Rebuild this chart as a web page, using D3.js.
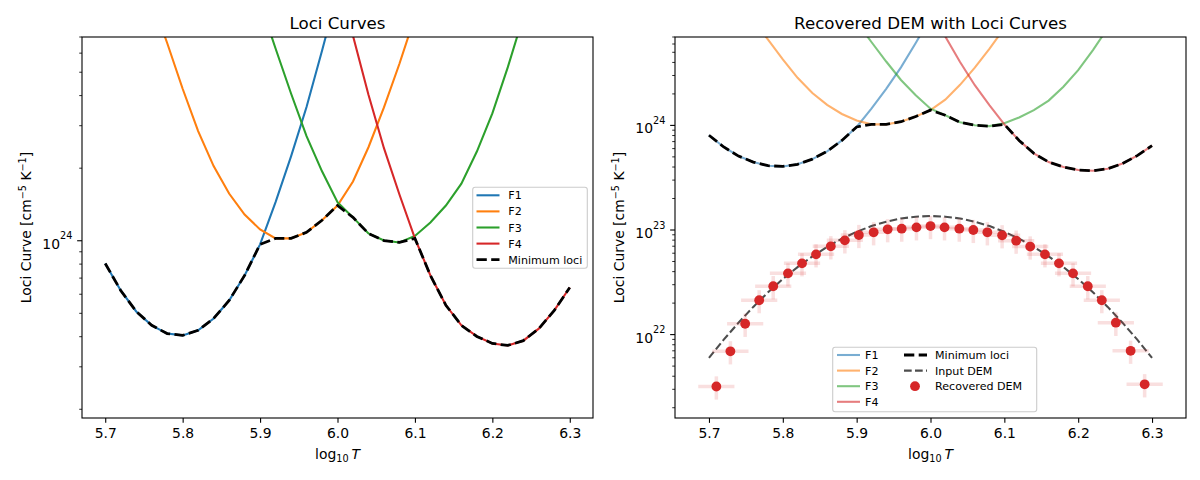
<!DOCTYPE html>
<html>
<head>
<meta charset="UTF-8">
<script src="https://d3js.org/d3.v7.min.js"></script>
<style>
    body { margin: 0; background: #fff; }
    svg text { font-family: "DejaVu Sans", sans-serif; fill: #000; }
</style>
</head>
<body>
<svg id="fig" width="1200" height="480"></svg>
<script>
// temperature grid of the loci curves
const logT = [5.70, 5.72, 5.74, 5.76, 5.78, 5.80, 5.82, 5.84, 5.86, 5.88, 5.90,
              5.92, 5.94, 5.96, 5.98, 6.00, 6.02, 6.04, 6.06, 6.08, 6.10,
              6.12, 6.14, 6.16, 6.18, 6.20, 6.22, 6.24, 6.26, 6.28, 6.30];

// loci curves, in units of 1e24 cm^-5 K^-1
const LOCI_UNIT = 1e24;
const f1 = [0.805, 0.622, 0.509, 0.446, 0.412, 0.405, 0.425, 0.476, 0.565, 0.718, 0.966,
            1.445, 2.239, 3.589, 6.138, 10.7, 19.1, 34.7, 63.1, 117, 224,
            427, 832, 1620, 3160, 6310, 12600, 25100, 50100, 100000, 200000];
const f2 = [50.1, 28.2, 16.6, 10.0, 6.61, 4.27, 2.85, 2.04, 1.57, 1.285, 1.114,
            1.023, 1.023, 1.084, 1.216, 1.400, 1.762, 2.443, 3.573, 5.420, 8.51,
            13.8, 22.9, 39.8, 70.8, 126, 234, 447, 871, 1738, 3548];
const f3 = [3981, 1995, 1000, 501, 263, 141, 79.4, 44.7, 26.3, 15.8, 9.77,
            6.27, 4.08, 2.716, 1.941, 1.445, 1.250, 1.072, 1.002, 0.984, 1.047,
            1.191, 1.400, 1.726, 2.344, 3.373, 5.248, 8.51, 14.1, 24.0, 41.7];
const f4 = [282000, 132000, 63100, 30200, 14800, 7244, 3631, 1820, 933, 479, 251,
            132, 72.4, 39.8, 22.4, 12.6, 7.08, 4.03, 2.421, 1.556, 1.023,
            0.718, 0.540, 0.446, 0.401, 0.375, 0.368, 0.385, 0.432, 0.514, 0.640];
const minLoci = [0.805, 0.622, 0.509, 0.446, 0.412, 0.405, 0.425, 0.476, 0.565, 0.718, 0.966,
                 1.023, 1.023, 1.084, 1.216, 1.400, 1.250, 1.072, 1.002, 0.984, 1.023,
                 0.718, 0.540, 0.446, 0.401, 0.375, 0.368, 0.385, 0.432, 0.514, 0.640];

const filterNames = ["F1", "F2", "F3", "F4"];
const filterColors = ["#1f77b4", "#ff7f0e", "#2ca02c", "#d62728"];

// input DEM on the logT grid
const inputDEM = [5.98e21, 8.95e21, 1.30e22, 1.84e22, 2.54e22, 3.40e22, 4.42e22, 5.60e22, 6.89e22, 8.26e22, 9.62e22,
                  1.09e23, 1.20e23, 1.29e23, 1.34e23, 1.36e23, 1.34e23, 1.29e23, 1.20e23, 1.09e23, 9.62e22,
                  8.26e22, 6.89e22, 5.60e22, 4.42e22, 3.40e22, 2.54e22, 1.84e22, 1.30e22, 8.95e21, 5.98e21];

// recovered DEM points
const recT = [5.710, 5.729, 5.749, 5.768, 5.787, 5.807, 5.826, 5.845, 5.865, 5.884, 5.903,
              5.923, 5.942, 5.961, 5.981, 6.000, 6.019, 6.039, 6.058, 6.077, 6.097,
              6.116, 6.135, 6.155, 6.174, 6.193, 6.213, 6.232, 6.251, 6.271, 6.290];
const recDEM = [3.19e21, 6.92e21, 1.27e22, 2.13e22, 2.90e22, 3.85e22, 4.80e22, 5.85e22, 6.98e22, 7.96e22, 8.95e22,
                9.51e22, 1.016e23, 1.03e23, 1.06e23, 1.09e23, 1.06e23, 1.03e23, 1.00e23, 9.50e22, 8.90e22,
                7.90e22, 6.95e22, 5.85e22, 4.80e22, 3.85e22, 2.90e22, 2.13e22, 1.30e22, 7.00e21, 3.35e21];
const recErr = [0.80e21, 1.73e21, 3.2e21, 5.3e21, 7.3e21, 9.6e21, 1.20e22, 1.46e22, 1.75e22, 2.0e22, 2.24e22,
                2.38e22, 2.54e22, 2.58e22, 2.65e22, 2.73e22, 2.65e22, 2.58e22, 2.50e22, 2.38e22, 2.23e22,
                1.98e22, 1.74e22, 1.46e22, 1.20e22, 9.6e21, 7.3e21, 5.3e21, 3.3e21, 1.75e21, 0.84e21];
const recTErr = 0.0245;

const xTicks = [5.7, 5.8, 5.9, 6.0, 6.1, 6.2, 6.3];

const svg = d3.select("#fig");
const FS = 13.9;

const lociTop = d3.max(minLoci) * LOCI_UNIT * 5;
const panels = [
    { id: "a", left: 82, right: 593, title: "Loci Curves",
      xDomain: [5.67, 6.33], yDomain: [d3.min(minLoci) * LOCI_UNIT * 0.5, lociTop], faded: false },
    { id: "b", left: 675, right: 1186, title: "Recovered DEM with Loci Curves",
      xDomain: [5.654, 6.346], yDomain: [d3.min(recDEM) * 0.5, lociTop], faded: true }
];
const axTop = 37, axBottom = 418;

function logTicks(lo, hi) {
    const out = [];
    for (let e = Math.floor(Math.log10(lo)); e <= Math.ceil(Math.log10(hi)); e++) {
        for (let m = 1; m <= 9; m++) {
            const v = m * Math.pow(10, e);
            if (v >= lo && v <= hi * 1.0001) out.push({ v, e, major: m === 1 });
        }
    }
    return out;
}

panels.forEach(p => {
    const x = d3.scaleLinear().domain(p.xDomain).range([p.left, p.right]);
    const y = d3.scaleLog().domain(p.yDomain).range([axBottom, axTop]);
    const g = svg.append("g");

    g.append("clipPath").attr("id", "clip-" + p.id)
        .append("rect").attr("x", p.left).attr("y", axTop)
        .attr("width", p.right - p.left).attr("height", axBottom - axTop);
    const plot = g.append("g").attr("clip-path", `url(#clip-${p.id})`);

    const line = d3.line().x((d, i) => x(logT[i])).y(d => y(d));

    // loci curves
    [f1, f2, f3, f4].forEach((arr, k) => {
        plot.append("path")
            .attr("d", line(arr.map(v => v * LOCI_UNIT)))
            .attr("fill", "none")
            .attr("stroke", filterColors[k])
            .attr("stroke-opacity", p.faded ? 0.6 : 1)
            .attr("stroke-width", 2.08);
    });
    plot.append("path")
        .attr("d", line(minLoci.map(v => v * LOCI_UNIT)))
        .attr("fill", "none").attr("stroke", "#000")
        .attr("stroke-width", 2.78).attr("stroke-dasharray", "10.3,4.4");

    if (p.faded) {
        plot.append("path")
            .attr("d", line(inputDEM))
            .attr("fill", "none").attr("stroke", "#4d4d4d")
            .attr("stroke-width", 2.08).attr("stroke-dasharray", "7.7,3.3");

        const eb = plot.append("g").attr("stroke", "#d62728")
            .attr("stroke-opacity", 0.15).attr("stroke-width", 3.5);
        recT.forEach((t, i) => {
            eb.append("line").attr("x1", x(t - recTErr)).attr("x2", x(t + recTErr))
                .attr("y1", y(recDEM[i])).attr("y2", y(recDEM[i]));
            eb.append("line").attr("x1", x(t)).attr("x2", x(t))
                .attr("y1", y(recDEM[i] - recErr[i])).attr("y2", y(recDEM[i] + recErr[i]));
        });
        plot.selectAll("circle.rec").data(recT).enter().append("circle")
            .attr("cx", d => x(d)).attr("cy", (d, i) => y(recDEM[i]))
            .attr("r", 4.9).attr("fill", "#d62728");
    }

    // x axis
    const xa = g.append("g").attr("transform", `translate(0,${axBottom})`)
        .call(d3.axisBottom(x).tickValues(xTicks).tickFormat(d3.format(".1f"))
            .tickSize(4.86).tickPadding(4.86));
    xa.select(".domain").remove();
    xa.selectAll("line").attr("stroke-width", 1.1);
    xa.selectAll("text").attr("font-size", FS).attr("font-family", "DejaVu Sans");

    // y axis (log, with minor ticks)
    const ticks = logTicks(p.yDomain[0], p.yDomain[1]);
    const ya = g.append("g").attr("transform", `translate(${p.left},0)`);
    ya.selectAll("line").data(ticks).enter().append("line")
        .attr("x1", d => d.major ? -4.86 : -2.78).attr("x2", 0)
        .attr("y1", d => y(d.v)).attr("y2", d => y(d.v))
        .attr("stroke", "#000").attr("stroke-width", d => d.major ? 1.1 : 0.83);
    const lab = ya.selectAll("text").data(ticks.filter(d => d.major)).enter().append("text")
        .attr("x", -9.7).attr("y", d => y(d.v) + 8)
        .attr("text-anchor", "end").attr("font-size", FS);
    lab.append("tspan").text("10");
    lab.append("tspan").attr("dy", -9.5).attr("font-size", 9.7).text(d => d.e);

    // frame
    g.append("rect").attr("x", p.left).attr("y", axTop)
        .attr("width", p.right - p.left).attr("height", axBottom - axTop)
        .attr("fill", "none").attr("stroke", "#000").attr("stroke-width", 1.1);

    // title and labels
    const cx = (p.left + p.right) / 2;
    g.append("text").attr("x", cx).attr("y", 29).attr("text-anchor", "middle")
        .attr("font-size", 16.67).text(p.title);
    const xl = g.append("text").attr("x", cx).attr("y", 459).attr("text-anchor", "middle")
        .attr("font-size", FS);
    xl.append("tspan").text("log");
    xl.append("tspan").attr("font-size", 9.7).attr("dy", 3).text("10");
    xl.append("tspan").attr("dy", -3).text("\u2009");
    xl.append("tspan").attr("font-style", "italic").text("T");

    const yl = g.append("text")
        .attr("transform", `translate(${p.left - 51},${(axTop + axBottom) / 2}) rotate(-90)`)
        .attr("text-anchor", "middle").attr("font-size", FS);
    yl.append("tspan").text("Loci Curve [cm");
    yl.append("tspan").attr("font-size", 9.7).attr("dy", -5.5).text("\u22125");
    yl.append("tspan").attr("dy", 5.5).text(" K");
    yl.append("tspan").attr("font-size", 9.7).attr("dy", -5.5).text("\u22121");
    yl.append("tspan").attr("dy", 5.5).text("]");
});

// legends
function legendBox(x0, y0, w, h) {
    svg.append("rect").attr("x", x0).attr("y", y0).attr("width", w).attr("height", h)
        .attr("rx", 2.5).attr("fill", "#fff").attr("fill-opacity", 0.8)
        .attr("stroke", "#cccccc").attr("stroke-width", 1.1);
}
function legendLine(xh, yc, color, width, dash, opacity, label, xt) {
    svg.append("line").attr("x1", xh).attr("x2", xh + 23).attr("y1", yc).attr("y2", yc)
        .attr("stroke", color).attr("stroke-width", width)
        .attr("stroke-dasharray", dash).attr("stroke-opacity", opacity);
    svg.append("text").attr("x", xt).attr("y", yc + 4).attr("font-size", 11.1).text(label);
}

// left legend
legendBox(472.7, 187.3, 114.6, 81);
filterNames.forEach((n, k) => legendLine(476.5, 195.3 + 16.1 * k, filterColors[k], 2.08, null, 1, n, 508.3));
legendLine(476.5, 195.3 + 16.1 * 4, "#000", 2.78, "10.3,4.4", 1, "Minimum loci", 508.3);

// right legend
legendBox(832.7, 347.3, 204, 64.4);
filterNames.forEach((n, k) => legendLine(837, 355 + 15.6 * k, filterColors[k], 2.08, null, 0.6, n, 865));
legendLine(904, 355, "#000", 2.78, "10.3,4.4", 1, "Minimum loci", 935);
legendLine(904, 370.6, "#4d4d4d", 2.08, "7.7,3.3", 1, "Input DEM", 935);
svg.append("circle").attr("cx", 915).attr("cy", 386.2).attr("r", 4.9).attr("fill", "#d62728");
svg.append("text").attr("x", 935).attr("y", 390.2).attr("font-size", 11.1).text("Recovered DEM");
</script>
</body>
</html>
